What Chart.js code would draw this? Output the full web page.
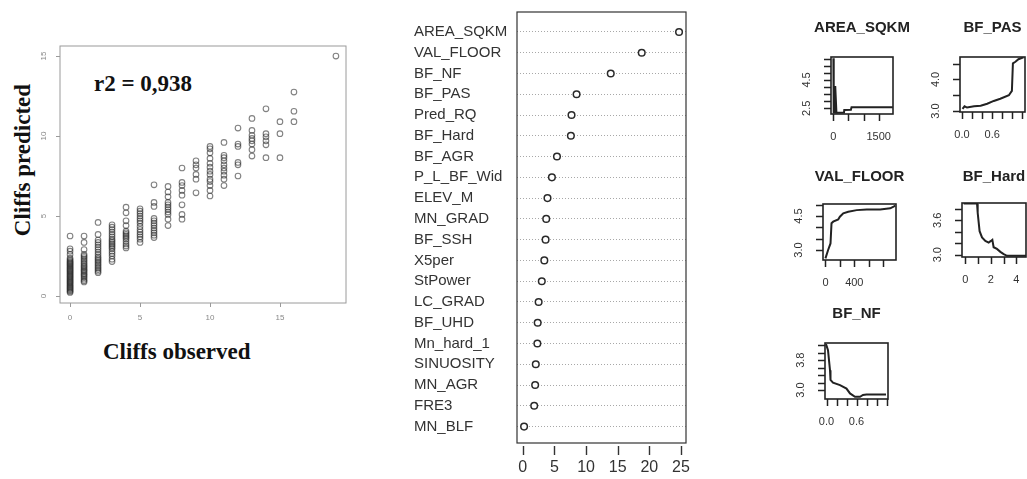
<!DOCTYPE html>
<html>
<head>
<meta charset="utf-8">
<script src="https://cdn.jsdelivr.net/npm/chart.js@4.4.1/dist/chart.umd.min.js"></script>
<style>
  html, body { margin: 0; padding: 0; background: #fff; }
  body { width: 1027px; height: 479px; position: relative; overflow: hidden; font-family: "Liberation Sans", Arial, sans-serif; }
  .box { position: absolute; }
  .serif { position: absolute; font-family: "Liberation Serif", "Times New Roman", serif; font-weight: bold; font-size: 23px; color: #111; white-space: nowrap; line-height: 28px; }
</style>
</head>
<body>
<div class="serif" style="left:-57px; top:146px; width:160px; text-align:center; transform:rotate(-90deg);">Cliffs predicted</div>
<div class="serif" style="left:103px; top:338px;">Cliffs observed</div>
<div class="serif" style="left:94px; top:70px;">r2 = 0,938</div>

<script>
// ---------------- DATA ----------------
// Left panel: observed vs predicted cliffs
const scatterObs = [0, 1, 2, 3, 4, 5, 6, 7, 8, 9, 10, 11, 12, 13, 14, 15, 16, 19];
const scatterPred = [
  [0.22, 0.28, 0.34, 0.4, 0.46, 0.52, 0.58, 0.64, 0.7, 0.76, 0.82, 0.88, 0.94, 1.0, 1.06, 1.12, 1.18, 1.24, 1.3, 1.36, 1.42, 1.48, 1.54, 1.6, 1.66, 1.72, 1.78, 1.84, 1.9, 1.96, 2.02, 2.08, 2.14, 2.2, 2.28, 2.36, 2.6, 2.8, 2.95, 3.75],
  [0.88, 0.95, 1.05, 1.15, 1.25, 1.32, 1.4, 1.5, 1.58, 1.65, 1.75, 1.82, 1.9, 2.0, 2.1, 2.2, 2.3, 2.4, 2.5, 2.6, 2.9, 3.35, 3.75],
  [1.45, 1.55, 1.65, 1.75, 1.85, 1.95, 2.05, 2.15, 2.25, 2.35, 2.45, 2.6, 2.75, 2.9, 3.05, 3.2, 3.35, 3.5, 3.85, 4.6],
  [2.15, 2.3, 2.5, 2.65, 2.8, 2.95, 3.05, 3.15, 3.25, 3.35, 3.45, 3.55, 3.7, 3.85, 4.0, 4.15, 4.3, 4.45],
  [3.0, 3.12, 3.25, 3.4, 3.55, 3.65, 3.75, 3.85, 3.95, 4.05, 4.4, 4.7, 5.2, 5.55],
  [3.35, 3.55, 3.7, 3.85, 4.0, 4.15, 4.35, 4.55, 4.7, 4.85, 5.0, 5.15, 5.3, 5.45],
  [3.65, 3.8, 3.95, 4.1, 4.25, 4.4, 4.55, 4.7, 4.85, 5.6, 5.85, 6.95],
  [4.4, 4.8, 5.1, 5.25, 5.4, 5.55, 5.7, 5.85, 6.2, 6.5, 6.85],
  [4.8, 5.1, 5.7, 6.3, 6.6, 6.9, 7.1, 8.0],
  [6.45, 7.3, 7.6, 8.0, 8.2, 8.45],
  [6.25, 6.6, 6.9, 7.15, 7.3, 7.6, 7.8, 8.05, 8.3, 8.6, 8.95, 9.2, 9.35],
  [6.9, 7.3, 7.55, 7.8, 8.0, 8.2, 8.45, 8.65, 8.8, 9.6],
  [7.5, 8.2, 8.35, 9.35, 9.5, 10.5],
  [8.75, 9.15, 9.5, 9.7, 9.85, 10.05, 10.35, 11.1],
  [8.65, 9.45, 9.7, 9.95, 10.15, 11.7],
  [8.65, 10.15, 10.9],
  [10.9, 11.55, 12.75],
  [15.0]
];
const scatterTicks = [0, 5, 10, 15];

// Middle panel: variable importance
const varNames = ['AREA_SQKM', 'VAL_FLOOR', 'BF_NF', 'BF_PAS', 'Pred_RQ', 'BF_Hard', 'BF_AGR', 'P_L_BF_Wid', 'ELEV_M', 'MN_GRAD', 'BF_SSH', 'X5per', 'StPower', 'LC_GRAD', 'BF_UHD', 'Mn_hard_1', 'SINUOSITY', 'MN_AGR', 'FRE3', 'MN_BLF'];
const importance = [24.7, 18.8, 13.9, 8.5, 7.7, 7.6, 5.4, 4.6, 3.9, 3.7, 3.6, 3.4, 3.0, 2.5, 2.35, 2.3, 2.05, 1.95, 1.8, 0.2];
const importanceTicks = [0, 5, 10, 15, 20, 25];

// Right panels: partial dependence
const areaX = [0, 10, 40, 60, 100, 350, 360, 580, 600, 1970];
const areaY = [6.03, 2.2, 2.2, 4.08, 2.19, 2.2, 2.38, 2.4, 2.57, 2.57];
const pasX = [0.01, 0.05, 0.1, 0.24, 0.37, 0.5, 0.63, 0.76, 0.93, 0.99, 1.01, 1.06, 1.12, 1.22];
const pasY = [3.07, 3.15, 3.11, 3.15, 3.17, 3.23, 3.32, 3.39, 3.5, 3.64, 4.51, 4.56, 4.64, 4.7];
const floorX = [0, 37, 70, 84, 107, 177, 200, 247, 316, 433, 572, 758, 898, 944, 967];
const floorY = [2.63, 3.0, 3.29, 4.18, 4.25, 4.35, 4.47, 4.62, 4.69, 4.76, 4.79, 4.79, 4.84, 4.91, 4.96];
const hardX = [-0.13, 0.92, 0.97, 1.12, 1.31, 1.57, 1.83, 2.01, 2.12, 2.22, 2.48, 2.75, 3.01, 3.27, 4.76];
const hardY = [3.89, 3.89, 3.73, 3.41, 3.3, 3.24, 3.21, 3.24, 3.26, 3.13, 3.1, 3.05, 3.01, 2.98, 2.98];
const nfX = [-0.01, 0.03, 0.07, 0.08, 0.13, 0.27, 0.4, 0.47, 0.57, 0.67, 0.73, 0.8, 1.19];
const nfY = [4.23, 4.07, 3.53, 3.27, 3.2, 3.13, 3.04, 2.91, 2.82, 2.82, 2.87, 2.88, 2.88];

// ---------------- HELPERS ----------------
Chart.defaults.font.family = '"Liberation Sans", Arial, sans-serif';
Chart.defaults.animation = false;

// frame around the plotting region (R style box)
const framePlugin = {
  id: 'frame',
  afterDatasetsDraw(chart, args, opts) {
    const a = chart.chartArea, ctx = chart.ctx;
    ctx.save();
    ctx.setLineDash([]);
    ctx.strokeStyle = opts.color || '#222';
    ctx.lineWidth = opts.width || 1;
    ctx.strokeRect(a.left, a.top, a.right - a.left, a.bottom - a.top);
    ctx.restore();
  }
};
// outward tick marks at each scale tick
const tickMarkPlugin = {
  id: 'tickmarks',
  afterDraw(chart, args, opts) {
    const a = chart.chartArea, ctx = chart.ctx;
    ctx.save();
    ctx.setLineDash([]);
    ['x', 'y'].forEach(id => {
      const o = opts[id];
      const s = chart.scales[id];
      if (!o || !s) return;
      ctx.strokeStyle = o.color; ctx.lineWidth = o.width;
      ctx.beginPath();
      s.ticks.forEach(t => {
        const p = Math.round(s.getPixelForValue(t.value)) + 0.5;
        if (id === 'x') { ctx.moveTo(p, a.bottom + o.offset); ctx.lineTo(p, a.bottom + o.offset + o.len); }
        else { ctx.moveTo(a.left - o.offset, p); ctx.lineTo(a.left - o.offset - o.len, p); }
      });
      ctx.stroke();
    });
    ctx.restore();
  }
};

function fix(size) {
  return function (scale) {
    if (scale.isHorizontal()) scale.height = size; else scale.width = size;
    scale.paddingTop = 0; scale.paddingBottom = 0; scale.paddingLeft = 0; scale.paddingRight = 0;
  };
}
function setTicks(values) {
  return function (scale) { scale.ticks = values.map(v => ({ value: v })); };
}
function makeCanvas(left, top, width, height) {
  const d = document.createElement('div');
  d.className = 'box';
  d.style.left = left + 'px'; d.style.top = top + 'px';
  d.style.width = width + 'px'; d.style.height = height + 'px';
  const c = document.createElement('canvas');
  c.width = width; c.height = height;
  c.style.width = width + 'px'; c.style.height = height + 'px';
  d.appendChild(c);
  document.body.appendChild(d);
  return c;
}

// ---------------- SCATTER ----------------
(function () {
  const pts = [];
  scatterObs.forEach((o, i) => scatterPred[i].forEach(p => pts.push({ x: o, y: p })));
  const c = makeCanvas(0, 0, 360, 345);
  new Chart(c, {
    type: 'scatter',
    data: { datasets: [{ data: pts, pointRadius: 2.8, pointBorderWidth: 1.1, borderColor: 'rgba(45,45,45,0.6)', backgroundColor: 'rgba(0,0,0,0)' }] },
    plugins: [framePlugin, tickMarkPlugin],
    options: {
      responsive: false,
      layout: { padding: { left: 0, top: 46, right: 14, bottom: 0 } },
      plugins: {
        legend: { display: false }, tooltip: { enabled: false },
        frame: { color: '#9a9a9a', width: 1 },
        tickmarks: { x: { offset: 0, len: 4, color: '#9a9a9a', width: 1 }, y: { offset: 0, len: 4, color: '#9a9a9a', width: 1 } }
      },
      scales: {
        x: {
          type: 'linear', min: -0.72, max: 19.72,
          afterFit: fix(42), afterBuildTicks: setTicks(scatterTicks),
          grid: { drawOnChartArea: false, tickLength: 4, tickColor: 'rgba(0,0,0,0)' },
          border: { display: false },
          ticks: { color: '#888', font: { size: 8 }, padding: 6, autoSkip: false, maxRotation: 0 }
        },
        y: {
          type: 'linear', min: -0.44, max: 15.63,
          afterFit: fix(60), afterBuildTicks: setTicks(scatterTicks),
          grid: { drawOnChartArea: false, tickLength: 4, tickColor: 'rgba(0,0,0,0)' },
          border: { display: false },
          ticks: { color: '#888', font: { size: 8 }, padding: 8, autoSkip: false, minRotation: 90, maxRotation: 90, crossAlign: 'center' }
        }
      }
    }
  });
})();

// ---------------- DOTCHART ----------------
(function () {
  const c = makeCanvas(400, 0, 300, 479);
  new Chart(c, {
    type: 'scatter',
    data: { datasets: [{ data: importance.map((v, i) => ({ x: v, y: i })), pointRadius: 3.3, pointBorderWidth: 1.5, borderColor: '#2a2a2a', backgroundColor: '#fff' }] },
    plugins: [framePlugin, tickMarkPlugin],
    options: {
      responsive: false,
      layout: { padding: { left: 14, top: 12, right: 14, bottom: 0 } },
      plugins: {
        legend: { display: false }, tooltip: { enabled: false },
        frame: { color: '#333', width: 1.2 },
        tickmarks: { x: { offset: 3, len: 9, color: '#333', width: 1.4 } }
      },
      scales: {
        x: {
          type: 'linear', min: -0.92, max: 25.8,
          afterFit: fix(36), afterBuildTicks: setTicks(importanceTicks),
          grid: { drawOnChartArea: false, tickLength: 12, tickColor: 'rgba(0,0,0,0)' },
          border: { display: false },
          ticks: { color: '#333', font: { size: 16 }, padding: 3, autoSkip: false, maxRotation: 0 }
        },
        y: {
          type: 'linear', reverse: true, min: -0.96, max: 19.79,
          afterFit: fix(103), afterBuildTicks: setTicks(varNames.map((n, i) => i)),
          grid: { drawOnChartArea: true, drawTicks: false, color: '#a8a8a8', lineWidth: 1 },
          border: { display: false, dash: [1, 2] },
          ticks: { color: '#333', font: { size: 15 }, padding: 0, crossAlign: 'far', autoSkip: false, callback: v => varNames[v] }
        }
      }
    }
  });
})();

// ---------------- PARTIAL DEPENDENCE ----------------
function makeSmall(o) {
  const sideW = 44, xAxisH = 36, lh = 18;
  const [l, t, r, b] = o.area;
  const cl = l - sideW, ct = o.titleY - lh / 2 - 2;
  const c = makeCanvas(cl, ct, r - l + 2 * sideW, b - ct + xAxisH);
  new Chart(c, {
    type: 'line',
    data: { datasets: [{ data: o.xs.map((x, i) => ({ x: x, y: o.ys[i] })), borderColor: '#222', borderWidth: 2, pointRadius: 0, fill: false, tension: 0 }] },
    plugins: [framePlugin, tickMarkPlugin],
    options: {
      responsive: false,
      layout: { padding: 0 },
      plugins: {
        legend: { display: false }, tooltip: { enabled: false },
        frame: { color: '#222', width: 1.6 },
        tickmarks: { x: { offset: 0, len: 7, color: '#222', width: 1.5 }, y: { offset: 0, len: 7, color: '#222', width: 1.5 } },
        title: { display: true, text: o.title, fullSize: true, color: '#222', font: { size: 15, weight: 'bold', lineHeight: 1.2 }, padding: { top: 2, bottom: t - (o.titleY + lh / 2) } }
      },
      scales: {
        x: {
          type: 'linear', min: o.xMin, max: o.xMax,
          afterFit: fix(xAxisH), afterBuildTicks: setTicks(o.xTicks),
          grid: { drawOnChartArea: false, tickLength: 7, tickColor: 'rgba(0,0,0,0)' },
          border: { display: false },
          ticks: { color: '#333', font: { size: 11 }, padding: 9, autoSkip: false, maxRotation: 0, callback: v => (o.xLabels[v] !== undefined ? o.xLabels[v] : '') }
        },
        y: {
          type: 'linear', min: o.yMin, max: o.yMax,
          afterFit: fix(sideW), afterBuildTicks: setTicks(o.yTicks),
          grid: { drawOnChartArea: false, tickLength: 7, tickColor: 'rgba(0,0,0,0)' },
          border: { display: false },
          ticks: { color: '#333', font: { size: 11 }, padding: 9, autoSkip: false, minRotation: 90, maxRotation: 90, crossAlign: 'center', callback: v => (o.yLabels[v] !== undefined ? o.yLabels[v] : '') }
        },
        yRight: {
          type: 'linear', position: 'right', display: true,
          afterFit: fix(sideW),
          grid: { display: false }, border: { display: false }, ticks: { display: false }
        }
      }
    }
  });
}

makeSmall({ title: 'AREA_SQKM', titleY: 28, area: [831, 57, 893, 114],
  xMin: -80, xMax: 1975, yMin: 2.1, yMax: 6.12,
  xTicks: [0, 500, 1000, 1500], xLabels: { 0: '0', 1500: '1500' },
  yTicks: [2.5, 3, 3.5, 4, 4.5, 5, 5.5, 6], yLabels: { 2.5: '2.5', 4.5: '4.5' },
  xs: areaX, ys: areaY });

makeSmall({ title: 'BF_PAS', titleY: 28, area: [960, 57, 1025, 112],
  xMin: -0.04, xMax: 1.25, yMin: 2.97, yMax: 4.71,
  xTicks: [0, 0.2, 0.4, 0.6, 0.8, 1.0, 1.2], xLabels: { 0: '0.0', 0.6: '0.6' },
  yTicks: [3, 3.5, 4, 4.5], yLabels: { 3: '3.0', 4: '4.0' },
  xs: pasX, ys: pasY });

makeSmall({ title: 'VAL_FLOOR', titleY: 177, area: [823, 204, 896, 260],
  xMin: -34, xMax: 978, yMin: 2.56, yMax: 5.03,
  xTicks: [0, 200, 400, 600, 800], xLabels: { 0: '0', 400: '400' },
  yTicks: [3, 3.5, 4, 4.5, 5], yLabels: { 3: '3.0', 4.5: '4.5' },
  xs: floorX, ys: floorY });

makeSmall({ title: 'BF_Hard', titleY: 177, area: [962, 203, 1026, 257],
  xMin: -0.26, xMax: 4.76, yMin: 2.96, yMax: 3.9,
  xTicks: [0, 1, 2, 3, 4], xLabels: { 0: '0', 2: '2', 4: '4' },
  yTicks: [3, 3.2, 3.4, 3.6, 3.8], yLabels: { 3: '3.0', 3.6: '3.6' },
  xs: hardX, ys: hardY });

makeSmall({ title: 'BF_NF', titleY: 314, area: [825, 343, 888, 399],
  xMin: -0.03, xMax: 1.23, yMin: 2.76, yMax: 4.26,
  xTicks: [0, 0.2, 0.4, 0.6, 0.8, 1.0, 1.2], xLabels: { 0: '0.0', 0.6: '0.6' },
  yTicks: [3, 3.2, 3.4, 3.6, 3.8, 4, 4.2], yLabels: { 3: '3.0', 3.8: '3.8' },
  xs: nfX, ys: nfY });
</script>
</body>
</html>
